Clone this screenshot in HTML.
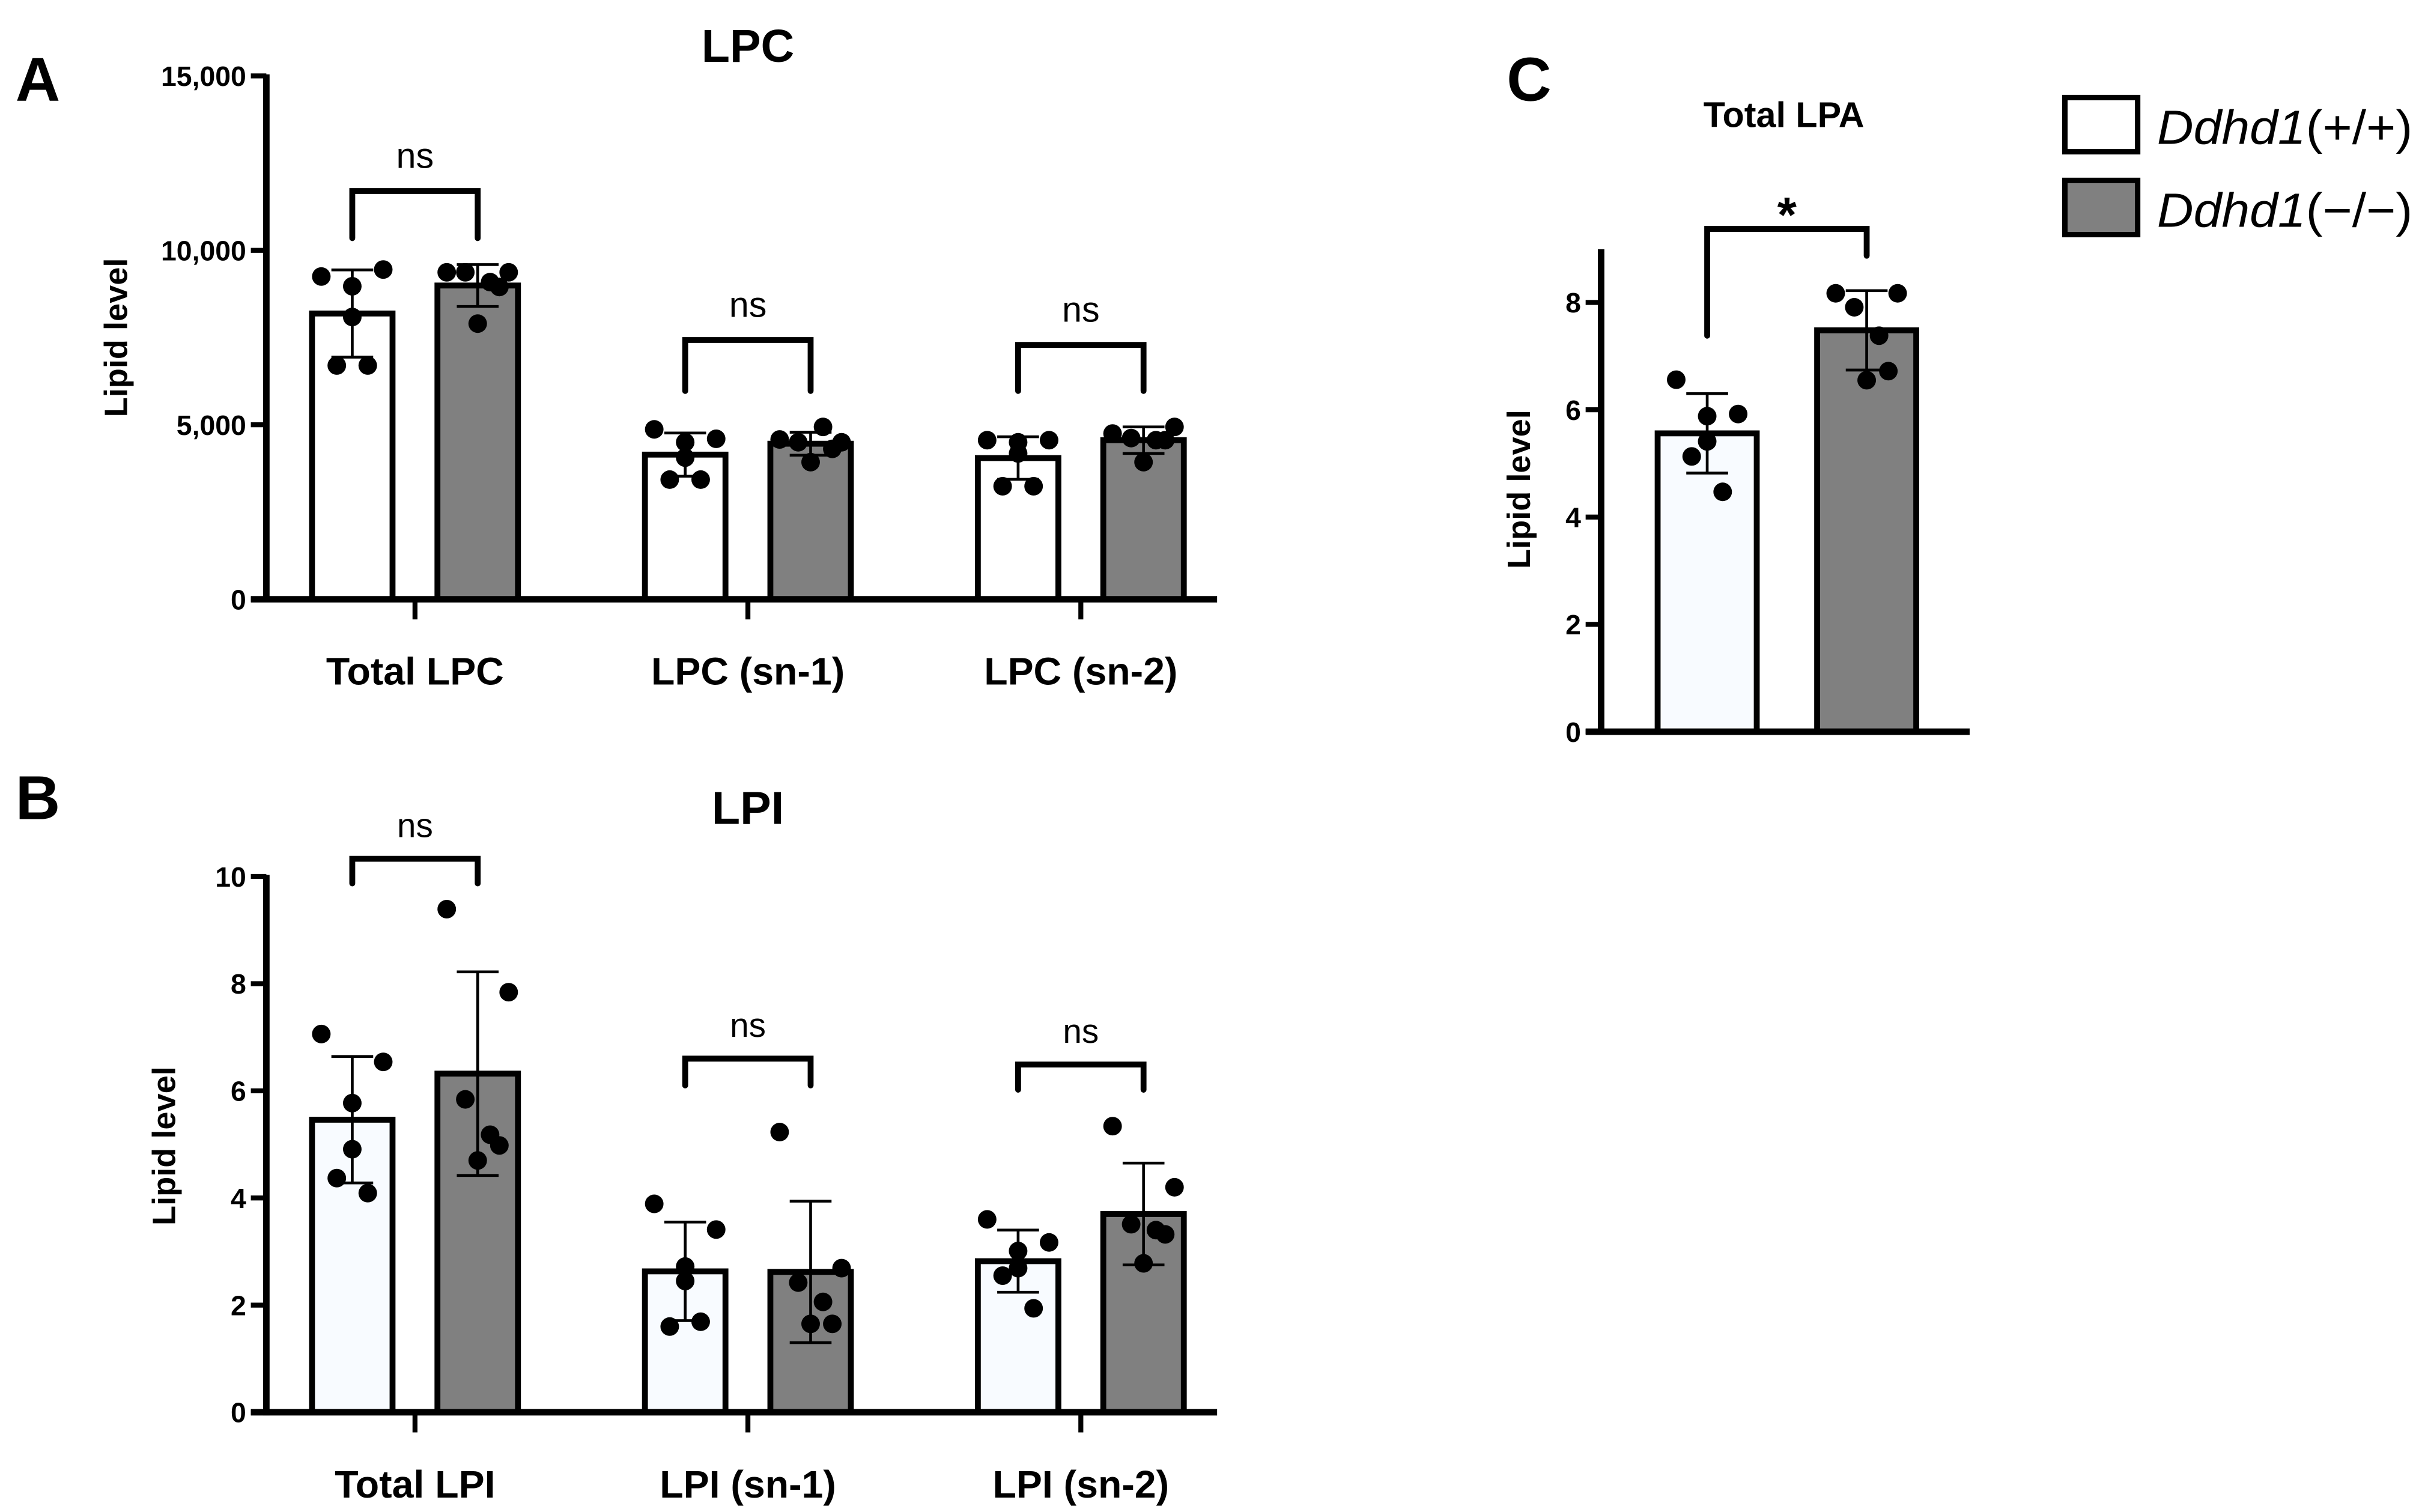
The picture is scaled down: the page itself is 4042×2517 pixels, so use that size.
<!DOCTYPE html>
<html><head><meta charset="utf-8"><style>
html,body{margin:0;padding:0;background:#fff;}
svg{display:block;}
text{font-family:"Liberation Sans",Arial,sans-serif;}
</style></head><body>
<svg id="fig" xmlns="http://www.w3.org/2000/svg" width="4042" height="2517" viewBox="0 0 1568 976.4" preserveAspectRatio="none">
<rect x="0" y="0" width="1568" height="976.4" fill="#fff"/>
<g id="root"></g>
</svg>
<script>
// ---- Panel A: LPC ----
const lpcCategories = ["Total LPC", "LPC (sn-1)", "LPC (sn-2)"];
const lpcWtMeans = [8190, 4146, 4047];
const lpcKoMeans = [8992, 4458, 4560];
const lpcWtSd = [1250, 620, 610];
const lpcKoSd = [600, 330, 380];
const lpcWtPoints = [[9250, 9450, 8970, 8090, 6700, 6700], [4870, 4600, 4500, 4060, 3430, 3430], [4560, 4560, 4500, 4180, 3240, 3240]];
const lpcKoPoints = [[9370, 9370, 9370, 9090, 8950, 7900], [4580, 4500, 4500, 4940, 4310, 3930], [4750, 4940, 4620, 4560, 4560, 3930]];
const lpcBracketTop = [11700, 7430, 7290];
const lpcBracketLeg = [10350, 5970, 5970];
const lpcTickValues = [0, 5000, 10000, 15000];
const lpcTickLabels = ["0", "5,000", "10,000", "15,000"];
const lpcSig = ["ns", "ns", "ns"];

// ---- Panel B: LPI ----
const lpiCategories = ["Total LPI", "LPI (sn-1)", "LPI (sn-2)"];
const lpiWtMeans = [5.46, 2.63, 2.82];
const lpiKoMeans = [6.32, 2.62, 3.70];
const lpiWtSd = [1.18, 0.92, 0.58];
const lpiKoSd = [1.90, 1.32, 0.95];
const lpiWtPoints = [[7.06, 6.54, 5.77, 4.91, 4.37, 4.09], [3.89, 3.41, 2.72, 2.45, 1.60, 1.69], [3.60, 3.17, 3.01, 2.69, 2.55, 1.94]];
const lpiKoPoints = [[9.39, 7.84, 5.84, 5.18, 4.98, 4.70], [5.23, 2.69, 2.42, 2.06, 1.65, 1.65], [5.34, 4.20, 3.51, 3.40, 3.32, 2.78]];
const lpiBracketTop = [10.33, 6.60, 6.49];
const lpiBracketLeg = [9.87, 6.10, 6.02];
const lpiTickValues = [0, 2, 4, 6, 8, 10];
const lpiTickLabels = ["0", "2", "4", "6", "8", "10"];
const lpiSig = ["ns", "ns", "ns"];

// ---- Panel C: LPA ----
const lpaCategories = ["Total LPA"];
const lpaWtMeans = [5.56];
const lpaKoMeans = [7.48];
const lpaWtSd = [0.74];
const lpaKoSd = [0.74];
const lpaWtPoints = [[6.56, 5.92, 5.88, 5.41, 5.13, 4.47]];
const lpaKoPoints = [[8.17, 8.17, 7.91, 7.38, 6.72, 6.55]];
const lpaBracketTop = [9.37];
const lpaBracketLegWt = [7.38];
const lpaBracketLegKo = [8.87];
const lpaTickValues = [0, 2, 4, 6, 8];
const lpaTickLabels = ["0", "2", "4", "6", "8"];
const lpaSig = ["*"];

const NS = "http://www.w3.org/2000/svg";
const root = document.getElementById('root');
function mk(tag, attrs, parent) {
  const e = document.createElementNS(NS, tag);
  for (const k in attrs) e.setAttribute(k, attrs[k]);
  (parent || root).appendChild(e);
  return e;
}
// fixed jitter pattern (visual style, not data)
const jitterWt = [-20, 20, 0, 0, -10, 10];
const jitterKo = [-20, 20, -8, 8, 14, 0];

function drawBarPanel(cfg) {
  const g = mk('g', {});
  
  
  const yS = v => cfg.y0 - (v - 0) / cfg.vmax * (cfg.y0 - cfg.yTop);
  const xC = i => cfg.left + cfg.firstOffset + i * cfg.step;
  cfg.cats.forEach((c, i) => {
    const cx = xC(i);
    [[cfg.wtMeans, cfg.wtSd, cfg.wtPts, -cfg.barOff, cfg.wtFill, jitterWt, 'wt'], [cfg.koMeans, cfg.koSd, cfg.koPts, cfg.barOff, '#808080', jitterKo, 'ko']].forEach(s => {
      const bx = cx + s[3];
      const top = yS(s[0][i]);
      const r = mk('rect', {x: bx - cfg.bw / 2, y: top, width: cfg.bw, height: cfg.y0 - top, fill: s[4], stroke: '#000', 'stroke-width': 3.8}, g);
      
      
      const hi = yS(s[0][i] + s[1][i]), lo = yS(s[0][i] - s[1][i]);
      const eb = mk('path', {d: `M${bx},${hi}V${lo}M${bx - 13.5},${hi}H${bx + 13.5}M${bx - 13.5},${lo}H${bx + 13.5}`, stroke: '#000', 'stroke-width': 1.8, fill: 'none'}, g);
      
      
      s[2][i].forEach((v, k) => {
        const d = mk('circle', {cx: bx + s[5][k] * cfg.jit, cy: yS(v), r: 6, fill: '#000'}, g);
        
        
      });
    });
    const x1 = cx - cfg.barOff, x2 = cx + cfg.barOff;
    const bt = yS(cfg.brTop[i]);
    const l1 = yS(cfg.brLeg1[i]), l2 = yS(cfg.brLeg2[i]);
    const br = mk('path', {d: `M${x1},${l1}V${bt}H${x2}V${l2}`, stroke: '#000', 'stroke-width': 3.8, fill: 'none', 'stroke-linecap': 'round'}, g);
    
    
    const st = mk('text', {x: cx, y: bt - cfg.sigGap, 'text-anchor': 'middle', 'font-size': cfg.sigSize, 'font-weight': cfg.sig[i] === '*' ? 'bold' : 'normal'}, g);
    st.textContent = cfg.sig[i];
    
    
    if (cfg.showCats) {
      const tk = mk('line', {x1: cx, x2: cx, y1: cfg.y0, y2: cfg.y0 + 13, stroke: '#000', 'stroke-width': 3.2}, g);
      
      
      const ct = mk('text', {x: cx, y: cfg.y0 + 55, 'text-anchor': 'middle', 'font-size': 25, 'font-weight': 'bold'}, g);
      ct.textContent = c;
      
      
    }
  });
  const ya = mk('line', {x1: cfg.left, x2: cfg.left, y1: cfg.axisTop, y2: cfg.y0 + 2, stroke: '#000', 'stroke-width': 4.2}, g);
  
  
  const xa = mk('line', {x1: cfg.left - 10, x2: cfg.right, y1: cfg.y0, y2: cfg.y0, stroke: '#000', 'stroke-width': 4.2}, g);
  
  
  cfg.tickVals.forEach((v, k) => {
    const y = yS(v);
    const t = mk('line', {x1: cfg.left - 10, x2: cfg.left, y1: y, y2: y, stroke: '#000', 'stroke-width': 3.2}, g);
    
    
    const tl = mk('text', {x: cfg.left - 13, y: y + 6.5, 'text-anchor': 'end', 'font-size': 18, 'font-weight': 'bold'}, g);
    tl.textContent = cfg.tickLabels[k];
    
    
  });
  const yt = mk('text', {x: 0, y: 0, 'text-anchor': 'middle', 'font-size': 21, 'font-weight': 'bold', transform: `translate(${cfg.ytX},${cfg.ytY}) rotate(-90)`}, g);
  yt.textContent = 'Lipid level';
  
  
  const tt = mk('text', {x: cfg.titleX, y: cfg.titleY, 'text-anchor': 'middle', 'font-size': cfg.titleSize, 'font-weight': 'bold'}, g);
  tt.textContent = cfg.title;
  
  
  const pl = mk('text', {x: cfg.letterX, y: cfg.letterY, 'font-size': 40, 'font-weight': 'bold'}, g);
  pl.textContent = cfg.letter;
  
  
}

drawBarPanel({name: 'panel-a-lpc', cats: lpcCategories, wtMeans: lpcWtMeans, koMeans: lpcKoMeans, wtSd: lpcWtSd, koSd: lpcKoSd,
  wtPts: lpcWtPoints, koPts: lpcKoPoints, brTop: lpcBracketTop, brLeg1: lpcBracketLeg, brLeg2: lpcBracketLeg, sig: lpcSig,
  tickVals: lpcTickValues, tickLabels: lpcTickLabels, vmax: 15000, y0: 387, yTop: 49, axisTop: 48, left: 172, right: 786,
  firstOffset: 96, step: 215, barOff: 40.5, bw: 52, wtFill: '#ffffff', jit: 1, sigGap: 15, sigSize: 23, showCats: true,
  ytX: 82, ytY: 218, title: 'LPC', titleX: 483, titleY: 40, titleSize: 30, letter: 'A', letterX: 10, letterY: 65});

drawBarPanel({name: 'panel-b-lpi', cats: lpiCategories, wtMeans: lpiWtMeans, koMeans: lpiKoMeans, wtSd: lpiWtSd, koSd: lpiKoSd,
  wtPts: lpiWtPoints, koPts: lpiKoPoints, brTop: lpiBracketTop, brLeg1: lpiBracketLeg, brLeg2: lpiBracketLeg, sig: lpiSig,
  tickVals: lpiTickValues, tickLabels: lpiTickLabels, vmax: 10, y0: 912, yTop: 566, axisTop: 565, left: 172, right: 786,
  firstOffset: 96, step: 215, barOff: 40.5, bw: 52, wtFill: '#f8fbff', jit: 1, sigGap: 14, sigSize: 22, showCats: true,
  ytX: 113, ytY: 740, title: 'LPI', titleX: 483, titleY: 532, titleSize: 30, letter: 'B', letterX: 10, letterY: 529});

drawBarPanel({name: 'panel-c-lpa', cats: lpaCategories, wtMeans: lpaWtMeans, koMeans: lpaKoMeans, wtSd: lpaWtSd, koSd: lpaKoSd,
  wtPts: lpaWtPoints, koPts: lpaKoPoints, brTop: lpaBracketTop, brLeg1: lpaBracketLegWt, brLeg2: lpaBracketLegKo, sig: lpaSig,
  tickVals: lpaTickValues, tickLabels: lpaTickLabels, vmax: 8, y0: 472.5, yTop: 195.3, axisTop: 161, left: 1034, right: 1272,
  firstOffset: 120, step: 0, barOff: 51.5, bw: 64, wtFill: '#f8fbff', jit: 1.0, sigGap: -2, sigSize: 32, showCats: false,
  ytX: 988, ytY: 316, title: 'Total LPA', titleX: 1152, titleY: 82, titleSize: 23, letter: 'C', letterX: 973, letterY: 65});

// legend
const lg = mk('g', {});


const legendLabels = ["(+/+)", "(\u2212/\u2212)"];
const legendFills = ['#ffffff', '#808080'];
legendLabels.forEach((lab, k) => {
  const y = 63 + k * 53.5;
  const b = mk('rect', {x: 1333.5, y: y, width: 47, height: 35, fill: legendFills[k], stroke: '#000', 'stroke-width': 3.5}, lg);
  
  
  const t = mk('text', {x: 1393, y: y + 30, 'font-size': 31, textLength: 165, lengthAdjust: 'spacingAndGlyphs'}, lg);
  
  
  const it = mk('tspan', {'font-style': 'italic'}, t);
  it.textContent = 'Ddhd1';
  const rest = mk('tspan', {}, t);
  rest.textContent = lab;
});
</script>
</body></html>
